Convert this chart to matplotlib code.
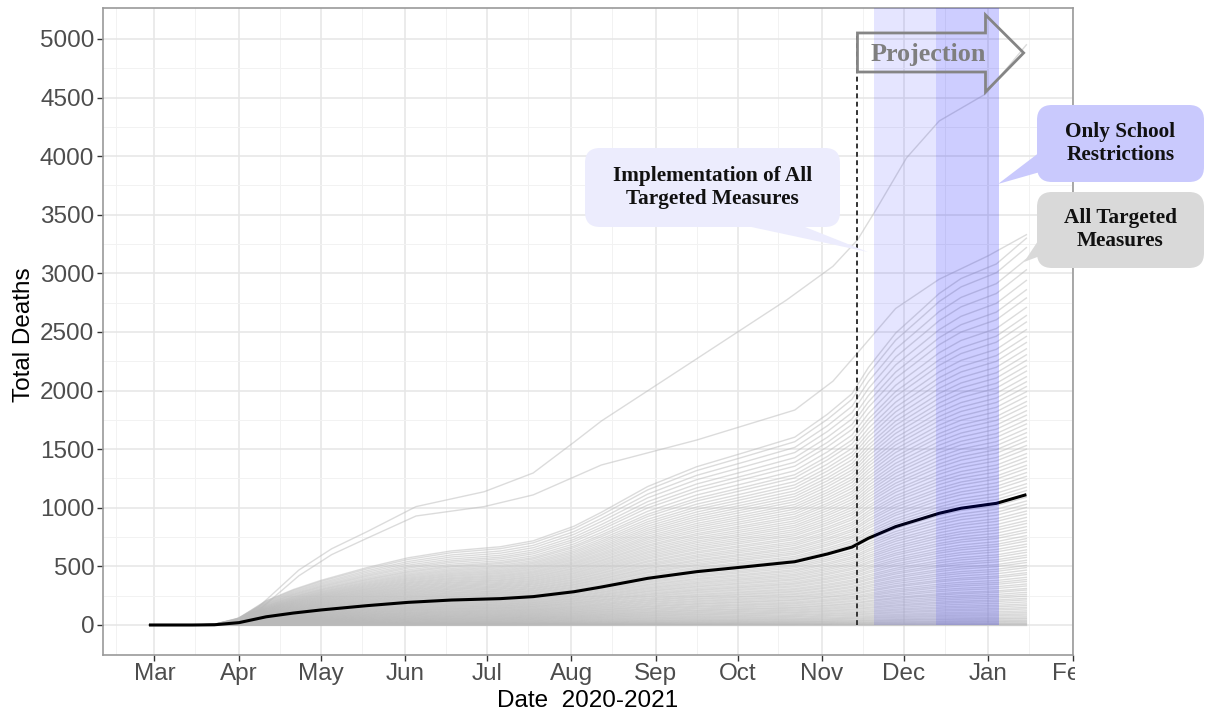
import numpy as np
import pandas as pd
import matplotlib
matplotlib.use('Agg')
import matplotlib.pyplot as plt
import matplotlib.dates as mdates
from matplotlib.patches import Polygon, FancyBboxPatch
from matplotlib.transforms import Bbox

# median run, cumulative deaths
median_dates = ['2020-02-28', '2020-03-15', '2020-03-23', '2020-04-01', '2020-04-11',
                '2020-04-21', '2020-05-01', '2020-05-18', '2020-06-02', '2020-06-18',
                '2020-07-06', '2020-07-18', '2020-08-02', '2020-08-12', '2020-08-29',
                '2020-09-16', '2020-10-04', '2020-10-22', '2020-11-03', '2020-11-12',
                '2020-11-18', '2020-11-28', '2020-12-08', '2020-12-14', '2020-12-22',
                '2021-01-04', '2021-01-15']
median_deaths = [0, 0, 2, 20, 70, 102, 128, 165, 193, 213, 225, 242, 284, 324, 398,
                 455, 497, 540, 606, 665, 740, 839, 910, 953, 996, 1038, 1112]

# the two highest runs
top_dates = ['2020-02-28', '2020-03-27', '2020-04-08', '2020-04-23', '2020-05-05',
             '2020-05-18', '2020-06-05', '2020-06-30', '2020-07-18', '2020-08-02',
             '2020-08-12', '2020-09-10', '2020-10-19', '2020-11-05', '2020-11-14',
             '2020-11-21', '2020-12-02', '2020-12-14', '2020-12-31', '2021-01-15']
top_deaths = [0, 0, 150, 469, 650, 796, 1010, 1137, 1297, 1560, 1740, 2180, 2773,
              3060, 3285, 3550, 3985, 4300, 4530, 4950]
second_dates = ['2020-02-28', '2020-03-27', '2020-04-08', '2020-04-23', '2020-05-05',
                '2020-05-18', '2020-06-05', '2020-06-30', '2020-07-18', '2020-08-12',
                '2020-09-16', '2020-10-22', '2020-11-05', '2020-11-14', '2020-11-28',
                '2020-12-14', '2021-01-01', '2021-01-15']
second_deaths = [0, 0, 120, 420, 600, 740, 930, 1010, 1110, 1365, 1578, 1834, 2080,
                 2320, 2700, 2950, 3150, 3330]

# final totals on 15 Jan 2021 of the other runs
run_totals = [0, 3, 7, 12, 18, 26, 33, 41, 52, 60, 71, 84, 95, 108, 121, 137,
              150, 166, 180, 197, 214, 228, 246, 262, 279, 298, 312, 333, 350,
              371, 388, 407, 430, 446, 468, 490, 509, 533, 552, 577, 596, 620,
              641, 668, 690, 716, 737, 762, 790, 812, 839, 866, 890, 918, 947,
              972, 1003, 1030, 1058, 1090, 1116, 1147, 1176, 1205, 1240, 1268,
              1300, 1334, 1362, 1398, 1430, 1462, 1500, 1531, 1570, 1603, 1640,
              1676, 1715, 1750, 1790, 1828, 1870, 1906, 1950, 1990, 2034, 2075,
              2118, 2166, 2210, 2258, 2305, 2356, 2410, 2462, 2520, 2585, 2640,
              2710, 2790, 2860, 2940, 3030, 3120, 3220, 3300]

measures_date = '2020-11-14'
projection_start = '2020-11-20'
school_start = '2020-12-13'
projection_end = '2021-01-05'

W, H = 1212, 713
fig = plt.figure(figsize=(W / 100, H / 100), dpi=100)
ax = fig.add_axes([102.7 / W, 1 - 655 / H, 970 / W, 647 / H])

md = pd.to_datetime(median_dates)
mv = np.array(median_deaths, dtype=float)
shape = mv / mv[-1]

run_style = dict(color='#b9b9b9', alpha=0.5, lw=1.0, zorder=2)
for total in run_totals:
    ax.plot(md, total * shape, **run_style)
ax.plot(pd.to_datetime(top_dates), top_deaths, **run_style)
ax.plot(pd.to_datetime(second_dates), second_deaths, **run_style)
ax.plot(md, mv, color='black', lw=2.2, zorder=3, solid_capstyle='butt')

# projection window, darker part for school-only restrictions
ymax_band = 5264
ax.fill_between(pd.to_datetime([projection_start, projection_end]), 0, ymax_band,
                color='#0000ff', alpha=0.1, lw=0, zorder=4)
ax.fill_between(pd.to_datetime([school_start, projection_end]), 0, ymax_band,
                color='#0000ff', alpha=0.1, lw=0, zorder=4)

ax.plot(pd.to_datetime([measures_date, measures_date]), [0, 5025], color='#333333',
        lw=1.4, dashes=(2.5, 1.8), zorder=5)

# Projection arrow
x0 = mdates.date2num(pd.Timestamp(measures_date))
xb = mdates.date2num(pd.Timestamp('2020-12-31'))
xt = mdates.date2num(pd.Timestamp('2021-01-14'))
arrow_pts = [(x0, 4718), (xb, 4718), (xb, 4548), (xt, 4881), (xb, 5205), (xb, 5051), (x0, 5051)]
ax.add_patch(Polygon(arrow_pts, closed=True, fill=False, ec='#858585', lw=2.0, zorder=6,
                     joinstyle='miter'))
ax.text(pd.Timestamp('2020-12-10'), 4870, 'Projection', ha='center', va='center',
        fontsize=18.8, fontweight='bold', family='Liberation Serif', color='#7f7f7f', zorder=7)

ax.set_xlim(pd.Timestamp('2020-02-11'), pd.Timestamp('2021-02-01'))
ax.set_ylim(-256, 5264)
ax.set_yticks(np.arange(0, 5001, 500))
ax.set_yticks(np.arange(250, 5001, 500), minor=True)
ax.xaxis.set_major_locator(mdates.MonthLocator())
ax.xaxis.set_minor_locator(mdates.MonthLocator(bymonthday=16))
ax.xaxis.set_major_formatter(mdates.DateFormatter('%b'))

ax.grid(which='major', color='#e6e6e6', lw=1.1, zorder=0)
ax.grid(which='minor', color='#f2f2f2', lw=0.7, zorder=0)
ax.set_axisbelow(True)
for s in ax.spines.values():
    s.set_color('#9a9a9a')
    s.set_linewidth(1.2)
ax.tick_params(which='major', length=4, width=1, color='#333333', labelsize=17.5,
               labelcolor='#4d4d4d', pad=2)
ax.tick_params(which='minor', length=0)

# the last month label runs off the right edge of the plot
edge = Bbox([[0, 0], [1075, H]])
for lab in ax.get_xticklabels() + ax.get_yticklabels():
    lab.set_family('Liberation Sans')
for lab in ax.get_xticklabels():
    lab.set_clip_box(edge)
    lab.set_clip_on(True)

ax.set_xlabel('Date  2020-2021', fontsize=17.5, family='Liberation Sans')
ax.set_ylabel('Total Deaths', fontsize=17.5, family='Liberation Sans')
ax.xaxis.set_label_coords(0.5, -0.054)
ax.yaxis.set_label_coords(-0.07, 0.495)


# callouts, laid out in figure pixels
def px(x, y):
    return (x / 100, (H - y) / 100)


def callout(x0, y0, x1, y1, tail, color, lines):
    box = FancyBboxPatch(px(x0, y1), (x1 - x0) / 100, (y1 - y0) / 100,
                         boxstyle='round,pad=0,rounding_size=0.15',
                         transform=fig.dpi_scale_trans, fc=color, ec='none', zorder=10)
    fig.add_artist(box)
    fig.add_artist(Polygon([px(*p) for p in tail], closed=True, transform=fig.dpi_scale_trans,
                           fc=color, ec='none', zorder=10))
    fig.text((x0 + x1) / 2 / W, 1 - (y0 + y1) / 2 / H, lines, ha='center', va='center',
             fontsize=15.3, fontweight='bold', family='Liberation Serif', color='#111111',
             linespacing=1.2, zorder=11)


callout(585, 148, 840, 227, [(742, 225), (800, 225), (868, 252)], '#ececfd',
        'Implementation of All\nTargeted Measures')
callout(1037, 105, 1204, 182, [(1040, 152), (1040, 172), (998, 184)], '#c9c9fd',
        'Only School\nRestrictions')
callout(1037, 192, 1204, 268, [(1040, 238), (1040, 256), (1024, 262)], '#d9d9d9',
        'All Targeted\nMeasures')

fig.savefig('out.png', dpi=100)
